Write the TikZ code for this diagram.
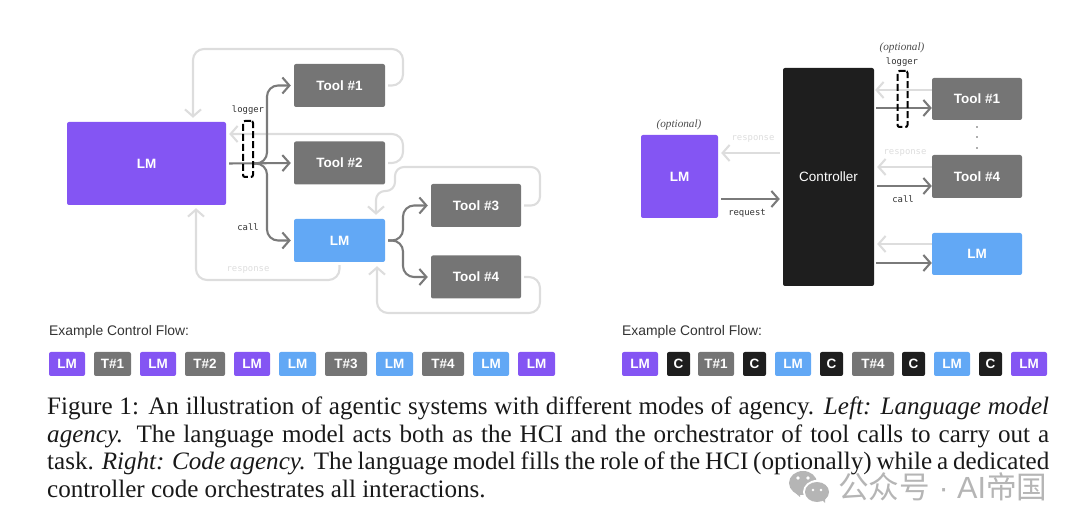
\documentclass[tikz,border=0pt]{standalone}
\usepackage{fontspec}
\setmainfont{Liberation Serif}
\setsansfont{Liberation Sans}
\setmonofont{DejaVu Sans Mono}
\newfontfamily\cjk{Noto Sans CJK SC}
\usetikzlibrary{arrows.meta}
\definecolor{lmpurple}{RGB}{132, 85, 243}
\definecolor{lmblue}{RGB}{98, 168, 245}
\definecolor{toolgray}{RGB}{117, 117, 117}
\definecolor{ctrlblack}{RGB}{30, 30, 30}
\definecolor{callgray}{RGB}{122, 122, 122}
\definecolor{backgray}{RGB}{221, 221, 221}
\definecolor{marklight}{RGB}{181, 181, 181}
\tikzset{
  box/.style={
    rectangle, rounded corners=2pt, inner sep=0pt, text=white,
    text height=9.7pt, text depth=0pt,
    font=\sffamily\bfseries\fontsize{13.5}{15}\selectfont,
  },
  chip/.style={
    box, minimum height=24pt,
    font=\sffamily\bfseries\fontsize{13.5}{15}\selectfont,
  },
  callflow/.style={
    color=callgray, line width=2.1pt, rounded corners=11pt,
    -{Straight Barb[length=7pt,width=16pt,line width=2.1pt]},
  },
  backflow/.style={
    color=backgray, line width=2.1pt, rounded corners=11pt,
    -{Straight Barb[length=7pt,width=16pt,line width=2.1pt]},
  },
  logger/.style={
    draw=black, dashed, dash pattern=on 7pt off 3pt, line width=2pt,
    rectangle, rounded corners=2pt, inner sep=0pt, minimum width=10pt,
  },
  monolabel/.style={font=\ttfamily\fontsize{8.9}{10}\selectfont, inner sep=0pt},
  handlabel/.style={font=\itshape\fontsize{11.2}{13}\selectfont, inner sep=0pt},
}

\begin{document}
\begin{tikzpicture}[x=1pt, y=-1pt]
\useasboundingbox (0, 0) rectangle (1080, 529);

% =:=:=:=:=:=:=:=:=:=:=:=:=:=:=:=:=:=:=
% Left: boxes
% =:=:=:=:=:=:=:=:=:=:=:=:=:=:=:=:=:=:=
\node[box, fill=lmpurple, minimum width=159pt, minimum height=83pt]
    (lmMain) at (146.5, 163.5) {LM};
\node[box, fill=toolgray, minimum width=91pt, minimum height=43pt]
    (toolOne) at (339.5, 85.5) {Tool \#1};
\node[box, fill=toolgray, minimum width=91pt, minimum height=43pt]
    (toolTwo) at (339.5, 163) {Tool \#2};
\node[box, fill=lmblue, minimum width=91pt, minimum height=43pt]
    (lmSub) at (339.5, 240.5) {LM};
\node[box, fill=toolgray, minimum width=90pt, minimum height=43pt]
    (toolThree) at (476, 205.5) {Tool \#3};
\node[box, fill=toolgray, minimum width=90pt, minimum height=43pt]
    (toolFour) at (476, 277) {Tool \#4};

% =:=:=:=:=:=:=:=:=:=:=:=:=:=:=:=:=:=:=
% Left: light return lines
% =:=:=:=:=:=:=:=:=:=:=:=:=:=:=:=:=:=:=
\coordinate (backOneA) at (403, 49);
\coordinate (backOneB) at (193, 49);
\draw[backflow, shorten <=3pt, shorten >=4pt]
    (toolOne.east) -- (backOneA |- toolOne.east) -- (backOneA)
    -- (backOneB) -- (backOneB |- lmMain.north);

\coordinate (backTwo) at (403, 134);
\draw[backflow, shorten <=3pt, shorten >=3pt]
    (toolTwo.east) -- (backTwo |- toolTwo.east) -- (backTwo)
    -- (lmMain.east |- backTwo);

\coordinate (backSub) at (196, 280);
\draw[backflow, shorten <=3pt, shorten >=3pt]
    (lmSub.south) -- (lmSub.south |- backSub) -- (backSub)
    -- (backSub |- lmMain.south);
\node[monolabel, text=backgray] (responseLeft) at (248, 270) {response};

\coordinate (backThreeA) at (540, 167);
\coordinate (backThreeB) at (395, 167);
\coordinate (backThreeC) at (395, 191);
\coordinate (backThreeD) at (376, 191);
\draw[backflow, shorten <=3pt, shorten >=4pt, rounded corners=9pt]
    (toolThree.east) -- (backThreeA |- toolThree.east) -- (backThreeA)
    -- (backThreeB) -- (backThreeC) -- (backThreeD)
    -- (backThreeD |- lmSub.north);

\coordinate (backFourA) at (540, 313);
\coordinate (backFourB) at (377, 313);
\draw[backflow, shorten <=3pt, shorten >=4pt]
    (toolFour.east) -- (backFourA |- toolFour.east) -- (backFourA)
    -- (backFourB) -- (backFourB |- lmSub.south);

% =:=:=:=:=:=:=:=:=:=:=:=:=:=:=:=:=:=:=
% Left: call lines
% =:=:=:=:=:=:=:=:=:=:=:=:=:=:=:=:=:=:=
\coordinate (busMain) at (267, 163.5);
\draw[callflow, shorten <=3pt, shorten >=3pt]
    (lmMain.east) -- (toolTwo.west);
\draw[callflow, shorten >=3pt]
    (254, 163.5) -- (busMain) -- (busMain |- toolOne.west) -- (toolOne.west);
\draw[callflow, shorten >=3pt]
    (254, 163.5) -- (busMain) -- (busMain |- lmSub.west) -- (lmSub.west);

\coordinate (busSub) at (403, 240.5);
\draw[callflow, shorten <=3pt, shorten >=3pt]
    (lmSub.east) -- (busSub) -- (busSub |- toolThree.west) -- (toolThree.west);
\draw[callflow, shorten <=3pt, shorten >=3pt]
    (lmSub.east) -- (busSub) -- (busSub |- toolFour.west) -- (toolFour.west);

\node[logger, minimum height=56pt] (loggerLeft) at (248, 149) {};
\node[monolabel, text=black!80] (loggerLeftText) at (248, 110) {logger};
\node[monolabel, text=black!80] (callLeft) at (248, 227) {call};

% =:=:=:=:=:=:=:=:=:=:=:=:=:=:=:=:=:=:=
% Right: boxes
% =:=:=:=:=:=:=:=:=:=:=:=:=:=:=:=:=:=:=
\node[box, fill=lmpurple, minimum width=77pt, minimum height=83pt]
    (lmUser) at (679.5, 176.5) {LM};
\node[box, fill=ctrlblack, minimum width=91pt, minimum height=218pt,
      font=\sffamily\fontsize{13.5}{15}\selectfont]
    (controller) at (828.5, 177) {Controller};
\node[box, fill=toolgray, minimum width=90pt, minimum height=42pt]
    (toolOneR) at (977, 99) {Tool \#1};
\node[box, fill=toolgray, minimum width=90pt, minimum height=43pt]
    (toolFourR) at (977, 176.5) {Tool \#4};
\node[box, fill=lmblue, minimum width=90pt, minimum height=42pt]
    (lmSubR) at (977, 254) {LM};

% =:=:=:=:=:=:=:=:=:=:=:=:=:=:=:=:=:=:=
% Right: lines between controller and boxes
% =:=:=:=:=:=:=:=:=:=:=:=:=:=:=:=:=:=:=
\coordinate (rowUserBack) at (0, 153);
\coordinate (rowUserCall) at (0, 199);
\coordinate (rowOneBack) at (0, 90);
\coordinate (rowOneCall) at (0, 108);
\coordinate (rowFourBack) at (0, 167);
\coordinate (rowFourCall) at (0, 186);
\coordinate (rowSubBack) at (0, 244);
\coordinate (rowSubCall) at (0, 263);

\draw[backflow, shorten <=3pt, shorten >=3pt]
    (controller.west |- rowUserBack) -- (lmUser.east |- rowUserBack);
\draw[callflow, shorten <=3pt, shorten >=3pt]
    (lmUser.east |- rowUserCall) -- (controller.west |- rowUserCall);
\draw[backflow, shorten >=1pt]
    (toolOneR.west |- rowOneBack) -- (controller.east |- rowOneBack);
\draw[callflow, shorten <=2pt]
    (controller.east |- rowOneCall) -- (toolOneR.west |- rowOneCall);
\draw[backflow, shorten >=3pt]
    (toolFourR.west |- rowFourBack) -- (controller.east |- rowFourBack);
\draw[callflow, shorten <=3pt]
    (controller.east |- rowFourCall) -- (toolFourR.west |- rowFourCall);
\draw[backflow, shorten >=3pt]
    (lmSubR.west |- rowSubBack) -- (controller.east |- rowSubBack);
\draw[callflow, shorten <=2pt]
    (controller.east |- rowSubCall) -- (lmSubR.west |- rowSubCall);

\node[logger, minimum height=56pt] (loggerRight) at (902.5, 99) {};
\node[monolabel, text=black!80] (loggerRightText) at (902, 62) {logger};
\node[handlabel, text=black!70] (optionalLogger) at (902, 48) {(optional)};
\node[handlabel, text=black!70] (optionalUser) at (679, 125) {(optional)};
\node[monolabel, text=backgray] (responseUser) at (753, 139) {response};
\node[monolabel, text=black!80] (requestUser) at (747, 213) {request};
\node[monolabel, text=backgray] (responseTool) at (905, 153) {response};
\node[monolabel, text=black!80] (callTool) at (903, 199) {call};

% dots between tools
\filldraw[color=callgray] (977, 127) circle (0.7pt);
\filldraw[color=callgray] (977, 137) circle (0.7pt);
\filldraw[color=callgray] (977, 148) circle (0.7pt);

% =:=:=:=:=:=:=:=:=:=:=:=:=:=:=:=:=:=:=
% Left: example control flow
% =:=:=:=:=:=:=:=:=:=:=:=:=:=:=:=:=:=:=
\node[anchor=west, inner sep=0pt, text=black!80,
      font=\sffamily\fontsize{13.9}{15}\selectfont]
    (flowLeft) at (49, 332) {Example Control Flow:};
\node[chip, fill=lmpurple, minimum width=36pt] (fa) at (67, 364) {LM};
\node[chip, fill=toolgray, minimum width=37pt] (fb) at (112.5, 364) {T\#1};
\node[chip, fill=lmpurple, minimum width=36pt] (fc) at (158, 364) {LM};
\node[chip, fill=toolgray, minimum width=40pt] (fd) at (205, 364) {T\#2};
\node[chip, fill=lmpurple, minimum width=36pt] (fe) at (252, 364) {LM};
\node[chip, fill=lmblue, minimum width=37pt] (ff) at (297.5, 364) {LM};
\node[chip, fill=toolgray, minimum width=42pt] (fg) at (346, 364) {T\#3};
\node[chip, fill=lmblue, minimum width=37pt] (fh) at (394.5, 364) {LM};
\node[chip, fill=toolgray, minimum width=42pt] (fi) at (443, 364) {T\#4};
\node[chip, fill=lmblue, minimum width=36pt] (fj) at (491, 364) {LM};
\node[chip, fill=lmpurple, minimum width=37pt] (fk) at (536.5, 364) {LM};

% =:=:=:=:=:=:=:=:=:=:=:=:=:=:=:=:=:=:=
% Right: example control flow
% =:=:=:=:=:=:=:=:=:=:=:=:=:=:=:=:=:=:=
\node[anchor=west, inner sep=0pt, text=black!80,
      font=\sffamily\fontsize{13.9}{15}\selectfont]
    (flowRight) at (622, 332) {Example Control Flow:};
\node[chip, fill=lmpurple, minimum width=36pt] (ga) at (640, 364) {LM};
\node[chip, fill=ctrlblack, minimum width=23pt] (gb) at (678.5, 364) {C};
\node[chip, fill=toolgray, minimum width=36pt] (gc) at (716, 364) {T\#1};
\node[chip, fill=ctrlblack, minimum width=23pt] (gd) at (754.5, 364) {C};
\node[chip, fill=lmblue, minimum width=36pt] (ge) at (793, 364) {LM};
\node[chip, fill=ctrlblack, minimum width=23pt] (gf) at (831.5, 364) {C};
\node[chip, fill=toolgray, minimum width=42pt] (gg) at (873, 364) {T\#4};
\node[chip, fill=ctrlblack, minimum width=23pt] (gh) at (913.5, 364) {C};
\node[chip, fill=lmblue, minimum width=36pt] (gi) at (952, 364) {LM};
\node[chip, fill=ctrlblack, minimum width=23pt] (gj) at (990.5, 364) {C};
\node[chip, fill=lmpurple, minimum width=36pt] (gk) at (1029, 364) {LM};

% =:=:=:=:=:=:=:=:=:=:=:=:=:=:=:=:=:=:=
% Caption
% =:=:=:=:=:=:=:=:=:=:=:=:=:=:=:=:=:=:=
\node[anchor=north west, inner sep=0pt, text width=1002pt, align=justify,
      text=black!90, font=\fontsize{25.1}{27.5}\selectfont]
    (caption) at (47, 397)
    {Figure 1: An illustration of agentic systems with different modes of agency. \textit{Left: Language model}\linebreak
     \textit{agency.} The language model acts both as the HCI and the orchestrator of tool calls to carry out a\linebreak
     task. \textit{Right: Code agency.} The language model fills the role of the HCI (optionally) while a dedicated\linebreak
     controller code orchestrates all interactions.};

% =:=:=:=:=:=:=:=:=:=:=:=:=:=:=:=:=:=:=
% Mark at the lower right
% =:=:=:=:=:=:=:=:=:=:=:=:=:=:=:=:=:=:=
\fill[marklight] (803, 483) ellipse [x radius=14pt, y radius=12pt];
\fill[marklight] (793, 491) -- (800, 497) -- (800, 490) -- cycle;
\fill[white] (817, 492) ellipse [x radius=14pt, y radius=12pt];
\fill[marklight] (817, 492) ellipse [x radius=12pt, y radius=10pt];
\fill[marklight] (821, 499) -- (825, 503) -- (825, 497) -- cycle;
\fill[white] (798, 478) circle (1.8pt);
\fill[white] (808, 478) circle (1.8pt);
\fill[white] (813, 490) circle (1.4pt);
\fill[white] (821, 490) circle (1.4pt);
\node[anchor=west, inner sep=0pt, text=marklight,
      font=\sffamily\fontsize{30.6}{32}\selectfont]
    (markText) at (838, 487) {{\cjk 公众号} · AI{\cjk 帝国}};
\end{tikzpicture}
\end{document}
